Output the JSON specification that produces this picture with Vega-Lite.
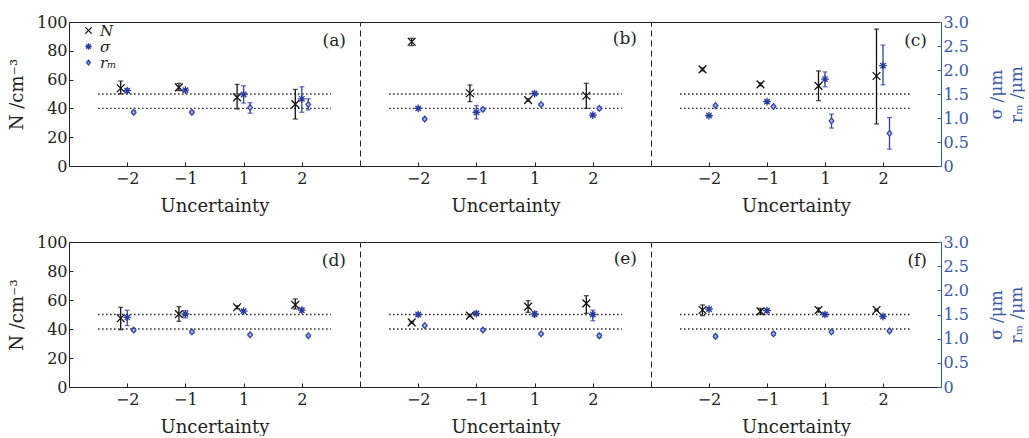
{
"$schema":"https://vega.github.io/schema/vega-lite/v6.json",
"padding":{"left":8,"top":14,"right":0,"bottom":0},
"config":{"font":"DejaVu Serif","view":{"stroke":null},
"axis":{"grid":false,"labelFont":"DejaVu Serif","titleFont":"DejaVu Serif","labelFontSize":16,"titleFontSize":18,"titleFontWeight":"normal","labelColor":"#222222","titleColor":"#222222","domainColor":"#222222","tickColor":"#222222","tickSize":-4,"domainWidth":1,"tickWidth":1},
"axisX":{"labelAngle":0},
"point":{"size":60,"strokeWidth":1.3,"filled":true,"opacity":1},
"tick":{"size":5,"thickness":1.3},
"rule":{"strokeWidth":1.3},
"title":{"anchor":"end","frame":"group","offset":0,"dx":-14,"dy":40,"fontSize":17,"fontWeight":"normal","font":"DejaVu Serif","color":"#222222","baseline":"alphabetic"}},
"datasets":{
"ref":[{"y":50,"a":0.5,"b":4.5},{"y":40,"a":0.5,"b":4.5}],
"pts":[
{"p":"a","u":"-2","s":"N","v":54,"lo":50,"hi":59},
{"p":"a","u":"-1","s":"N","v":54.6,"lo":52.3,"hi":57.4},
{"p":"a","u":"1","s":"N","v":47.7,"lo":39.6,"hi":56.7},
{"p":"a","u":"2","s":"N","v":43,"lo":32.6,"hi":53.2},
{"p":"a","u":"-2","s":"σ","v":1.57,"lo":1.53,"hi":1.61},
{"p":"a","u":"-1","s":"σ","v":1.58,"lo":1.55,"hi":1.61},
{"p":"a","u":"1","s":"σ","v":1.49,"lo":1.31,"hi":1.67},
{"p":"a","u":"2","s":"σ","v":1.40,"lo":1.12,"hi":1.65},
{"p":"a","u":"-2","s":"rm","v":1.12,"lo":1.09,"hi":1.15},
{"p":"a","u":"-1","s":"rm","v":1.12,"lo":1.09,"hi":1.15},
{"p":"a","u":"1","s":"rm","v":1.22,"lo":1.10,"hi":1.32},
{"p":"a","u":"2","s":"rm","v":1.28,"lo":1.17,"hi":1.40},
{"p":"b","u":"-2","s":"N","v":86.3,"lo":83.6,"hi":88.7},
{"p":"b","u":"-1","s":"N","v":50.5,"lo":44.7,"hi":56.3},
{"p":"b","u":"1","s":"N","v":45.8,"lo":45,"hi":46.6},
{"p":"b","u":"2","s":"N","v":48.8,"lo":40,"hi":57.4},
{"p":"b","u":"-2","s":"σ","v":1.20,"lo":1.17,"hi":1.23},
{"p":"b","u":"-1","s":"σ","v":1.12,"lo":0.98,"hi":1.26},
{"p":"b","u":"1","s":"σ","v":1.51,"lo":1.48,"hi":1.54},
{"p":"b","u":"2","s":"σ","v":1.06,"lo":1.03,"hi":1.09},
{"p":"b","u":"-2","s":"rm","v":0.98,"lo":0.96,"hi":1.00},
{"p":"b","u":"-1","s":"rm","v":1.18,"lo":1.15,"hi":1.21},
{"p":"b","u":"1","s":"rm","v":1.28,"lo":1.26,"hi":1.30},
{"p":"b","u":"2","s":"rm","v":1.20,"lo":1.17,"hi":1.23},
{"p":"c","u":"-2","s":"N","v":67.1,"lo":66.1,"hi":68.1},
{"p":"c","u":"-1","s":"N","v":56.7,"lo":55.7,"hi":57.7},
{"p":"c","u":"1","s":"N","v":55.6,"lo":45.4,"hi":66},
{"p":"c","u":"2","s":"N","v":62.5,"lo":29.2,"hi":95.1},
{"p":"c","u":"-2","s":"σ","v":1.05,"lo":1.03,"hi":1.07},
{"p":"c","u":"-1","s":"σ","v":1.34,"lo":1.31,"hi":1.37},
{"p":"c","u":"1","s":"σ","v":1.81,"lo":1.65,"hi":1.96},
{"p":"c","u":"2","s":"σ","v":2.09,"lo":1.69,"hi":2.52},
{"p":"c","u":"-2","s":"rm","v":1.26,"lo":1.24,"hi":1.28},
{"p":"c","u":"-1","s":"rm","v":1.24,"lo":1.22,"hi":1.26},
{"p":"c","u":"1","s":"rm","v":0.94,"lo":0.79,"hi":1.08},
{"p":"c","u":"2","s":"rm","v":0.68,"lo":0.35,"hi":1.01},
{"p":"d","u":"-2","s":"N","v":47.4,"lo":39.5,"hi":55},
{"p":"d","u":"-1","s":"N","v":50.3,"lo":45.3,"hi":55.4},
{"p":"d","u":"1","s":"N","v":55,"lo":54,"hi":56},
{"p":"d","u":"2","s":"N","v":56.6,"lo":53.8,"hi":60.7},
{"p":"d","u":"-2","s":"σ","v":1.44,"lo":1.27,"hi":1.59},
{"p":"d","u":"-1","s":"σ","v":1.51,"lo":1.43,"hi":1.58},
{"p":"d","u":"1","s":"σ","v":1.57,"lo":1.54,"hi":1.60},
{"p":"d","u":"2","s":"σ","v":1.59,"lo":1.55,"hi":1.63},
{"p":"d","u":"-2","s":"rm","v":1.18,"lo":1.15,"hi":1.21},
{"p":"d","u":"-1","s":"rm","v":1.14,"lo":1.11,"hi":1.17},
{"p":"d","u":"1","s":"rm","v":1.08,"lo":1.06,"hi":1.10},
{"p":"d","u":"2","s":"rm","v":1.06,"lo":1.04,"hi":1.08},
{"p":"e","u":"-2","s":"N","v":44.6,"lo":44,"hi":45.2},
{"p":"e","u":"-1","s":"N","v":49.2,"lo":48.6,"hi":49.8},
{"p":"e","u":"1","s":"N","v":55.4,"lo":51.5,"hi":59.5},
{"p":"e","u":"2","s":"N","v":57.7,"lo":50.8,"hi":63},
{"p":"e","u":"-2","s":"σ","v":1.50,"lo":1.47,"hi":1.53},
{"p":"e","u":"-1","s":"σ","v":1.52,"lo":1.49,"hi":1.55},
{"p":"e","u":"1","s":"σ","v":1.51,"lo":1.46,"hi":1.56},
{"p":"e","u":"2","s":"σ","v":1.50,"lo":1.37,"hi":1.59},
{"p":"e","u":"-2","s":"rm","v":1.27,"lo":1.25,"hi":1.29},
{"p":"e","u":"-1","s":"rm","v":1.18,"lo":1.16,"hi":1.20},
{"p":"e","u":"1","s":"rm","v":1.10,"lo":1.08,"hi":1.12},
{"p":"e","u":"2","s":"rm","v":1.06,"lo":1.02,"hi":1.10},
{"p":"f","u":"-2","s":"N","v":53.1,"lo":49.2,"hi":56.6},
{"p":"f","u":"-1","s":"N","v":52.2,"lo":50.2,"hi":54.2},
{"p":"f","u":"1","s":"N","v":53.1,"lo":51.6,"hi":54.6},
{"p":"f","u":"2","s":"N","v":53.1,"lo":52.5,"hi":53.7},
{"p":"f","u":"-2","s":"σ","v":1.61,"lo":1.58,"hi":1.64},
{"p":"f","u":"-1","s":"σ","v":1.58,"lo":1.55,"hi":1.61},
{"p":"f","u":"1","s":"σ","v":1.50,"lo":1.47,"hi":1.53},
{"p":"f","u":"2","s":"σ","v":1.46,"lo":1.43,"hi":1.49},
{"p":"f","u":"-2","s":"rm","v":1.05,"lo":1.02,"hi":1.08},
{"p":"f","u":"-1","s":"rm","v":1.10,"lo":1.07,"hi":1.13},
{"p":"f","u":"1","s":"rm","v":1.14,"lo":1.12,"hi":1.16},
{"p":"f","u":"2","s":"rm","v":1.16,"lo":1.14,"hi":1.18}
]},
"resolve":{"scale":{"shape":"independent","stroke":"independent","fill":"independent"},"legend":{"shape":"independent","stroke":"independent","fill":"independent"}},
"spacing":19,
"vconcat":[
{"hconcat":[
{"width":291,"height":144,"title":{"text":"(a)"},
"layer":[
{"data":{"name":"ref"},"mark":{"type":"rule","strokeDash":[1.5,2.5],"color":"#222222"},"encoding":{"x":{"field":"a","type":"quantitative","scale":{"domain":[0,5]},"axis":{"orient":"top","labels":false,"ticks":false,"title":null}},"x2":{"field":"b"},"y":{"field":"y","type":"quantitative","scale":{"domain":[0,100]},"axis":null}}},
{"data":{"name":"pts"},"transform":[{"filter":"datum.p=='a' && datum.s=='N'"}],"mark":{"type":"rule","color":"#111111"},"encoding":{"x":{"field":"u","type":"nominal","scale":{"type":"point","domain":["-2","-1","1","2"],"padding":1},"axis":{"title":"Uncertainty","labelExpr":"replace(datum.label,'-','−')","labelPadding":8,"titlePadding":11}},"xOffset":{"field":"s","type":"nominal","scale":{"type":"point","domain":["N","σ","rm"],"range":[-6.5,6.5],"padding":0}},"y":{"field":"lo","type":"quantitative","scale":{"domain":[0,100]},"axis":{"orient":"left","values":[0,20,40,60,80,100],"title":"N /cm⁻³","titlePadding":10,"labelPadding":6}},"y2":{"field":"hi"}}},
{"data":{"name":"pts"},"transform":[{"filter":"datum.p=='a' && datum.s=='N'"},{"fold":["lo","hi"],"as":["k","e"]}],"mark":{"type":"tick","color":"#111111"},"encoding":{"x":{"field":"u","type":"nominal","scale":{"type":"point","domain":["-2","-1","1","2"],"padding":1},"axis":null},"xOffset":{"field":"s","type":"nominal","scale":{"type":"point","domain":["N","σ","rm"],"range":[-6.5,6.5],"padding":0}},"y":{"field":"e","type":"quantitative","scale":{"domain":[0,100]},"axis":null}}},
{"data":{"name":"pts"},"transform":[{"filter":"datum.p=='a' && datum.s=='N'"}],"mark":"point","encoding":{"x":{"field":"u","type":"nominal","scale":{"type":"point","domain":["-2","-1","1","2"],"padding":1},"axis":null},"xOffset":{"field":"s","type":"nominal","scale":{"type":"point","domain":["N","σ","rm"],"range":[-6.5,6.5],"padding":0}},"y":{"field":"v","type":"quantitative","scale":{"domain":[0,100]},"axis":null},
"shape":{"field":"s","type":"nominal","scale":{"domain":["N","σ","rm"],"range":["M-1,-1L1,1M-1,1L1,-1","M-1,0L1,0M0,-1L0,1M-0.7,-0.7L0.7,0.7M-0.7,0.7L0.7,-0.7","M0,-0.75L0.6,0L0,0.75L-0.6,0Z"]},"legend":{"orient":"top-left","title":null,"offset":1,"padding":0,"rowPadding":-6,"labelFontSize":15,"labelFontStyle":"italic","labelColor":"#222222","symbolSize":40,"symbolStrokeWidth":1.3,"symbolOffset":11,"labelOffset":4,"labelExpr":"datum.label=='rm' ? 'rₘ' : datum.label"}},
"stroke":{"field":"s","type":"nominal","scale":{"domain":["N","σ","rm"],"range":["#111111","#2b3a9e","#3848a8"]},"legend":{"orient":"top-left","title":null,"offset":1,"padding":0,"rowPadding":-6,"labelFontSize":15,"labelFontStyle":"italic","labelColor":"#222222","symbolSize":40,"symbolStrokeWidth":1.3,"symbolOffset":11,"labelOffset":4,"labelExpr":"datum.label=='rm' ? 'rₘ' : datum.label"}},
"fill":{"field":"s","type":"nominal","scale":{"domain":["N","σ","rm"],"range":["transparent","transparent","#b0b8e8"]},"legend":{"orient":"top-left","title":null,"offset":1,"padding":0,"rowPadding":-6,"labelFontSize":15,"labelFontStyle":"italic","labelColor":"#222222","symbolSize":40,"symbolStrokeWidth":1.3,"symbolOffset":11,"labelOffset":4,"labelExpr":"datum.label=='rm' ? 'rₘ' : datum.label"}}}},
{"data":{"name":"pts"},"transform":[{"filter":"datum.p=='a' && datum.s!='N'"}],"mark":{"type":"rule","color":"#3040a4"},"encoding":{"x":{"field":"u","type":"nominal","scale":{"type":"point","domain":["-2","-1","1","2"],"padding":1},"axis":null},"xOffset":{"field":"s","type":"nominal","scale":{"type":"point","domain":["N","σ","rm"],"range":[-6.5,6.5],"padding":0}},"y":{"field":"lo","type":"quantitative","scale":{"domain":[0,3]},"axis":null},"y2":{"field":"hi"}}},
{"data":{"name":"pts"},"transform":[{"filter":"datum.p=='a' && datum.s!='N'"},{"fold":["lo","hi"],"as":["k","e"]}],"mark":{"type":"tick","color":"#3040a4"},"encoding":{"x":{"field":"u","type":"nominal","scale":{"type":"point","domain":["-2","-1","1","2"],"padding":1},"axis":null},"xOffset":{"field":"s","type":"nominal","scale":{"type":"point","domain":["N","σ","rm"],"range":[-6.5,6.5],"padding":0}},"y":{"field":"e","type":"quantitative","scale":{"domain":[0,3]},"axis":null}}},
{"data":{"name":"pts"},"transform":[{"filter":"datum.p=='a' && datum.s!='N'"}],"mark":"point","encoding":{"x":{"field":"u","type":"nominal","scale":{"type":"point","domain":["-2","-1","1","2"],"padding":1},"axis":null},"xOffset":{"field":"s","type":"nominal","scale":{"type":"point","domain":["N","σ","rm"],"range":[-6.5,6.5],"padding":0}},"y":{"field":"v","type":"quantitative","scale":{"domain":[0,3]},"axis":null},
"shape":{"field":"s","type":"nominal","scale":{"domain":["N","σ","rm"],"range":["M-1,-1L1,1M-1,1L1,-1","M-1,0L1,0M0,-1L0,1M-0.7,-0.7L0.7,0.7M-0.7,0.7L0.7,-0.7","M0,-0.75L0.6,0L0,0.75L-0.6,0Z"]},"legend":{"orient":"top-left","title":null,"offset":1,"padding":0,"rowPadding":-6,"labelFontSize":15,"labelFontStyle":"italic","labelColor":"#222222","symbolSize":40,"symbolStrokeWidth":1.3,"symbolOffset":11,"labelOffset":4,"labelExpr":"datum.label=='rm' ? 'rₘ' : datum.label"}},
"stroke":{"field":"s","type":"nominal","scale":{"domain":["N","σ","rm"],"range":["#111111","#2b3a9e","#3848a8"]},"legend":{"orient":"top-left","title":null,"offset":1,"padding":0,"rowPadding":-6,"labelFontSize":15,"labelFontStyle":"italic","labelColor":"#222222","symbolSize":40,"symbolStrokeWidth":1.3,"symbolOffset":11,"labelOffset":4,"labelExpr":"datum.label=='rm' ? 'rₘ' : datum.label"}},
"fill":{"field":"s","type":"nominal","scale":{"domain":["N","σ","rm"],"range":["transparent","transparent","#b0b8e8"]},"legend":{"orient":"top-left","title":null,"offset":1,"padding":0,"rowPadding":-6,"labelFontSize":15,"labelFontStyle":"italic","labelColor":"#222222","symbolSize":40,"symbolStrokeWidth":1.3,"symbolOffset":11,"labelOffset":4,"labelExpr":"datum.label=='rm' ? 'rₘ' : datum.label"}}}}
],
"resolve":{"scale":{"x":"independent","y":"independent"}}},
{"width":291,"height":144,"title":{"text":"(b)","dy":30},
"layer":[
{"data":{"name":"ref"},"mark":{"type":"rule","strokeDash":[1.5,2.5],"color":"#222222"},"encoding":{"x":{"field":"a","type":"quantitative","scale":{"domain":[0,5]},"axis":{"orient":"top","labels":false,"ticks":false,"title":null}},"x2":{"field":"b"},"y":{"field":"y","type":"quantitative","scale":{"domain":[0,100]},"axis":null}}},
{"data":{"name":"pts"},"transform":[{"filter":"datum.p=='b' && datum.s=='N'"}],"mark":{"type":"rule","color":"#111111"},"encoding":{"x":{"field":"u","type":"nominal","scale":{"type":"point","domain":["-2","-1","1","2"],"padding":1},"axis":{"title":"Uncertainty","labelExpr":"replace(datum.label,'-','−')","labelPadding":8,"titlePadding":11}},"xOffset":{"field":"s","type":"nominal","scale":{"type":"point","domain":["N","σ","rm"],"range":[-6.5,6.5],"padding":0}},"y":{"field":"lo","type":"quantitative","scale":{"domain":[0,100]},"axis":{"orient":"left","labels":false,"ticks":false,"title":null,"domainDash":[6,4]}},"y2":{"field":"hi"}}},
{"data":{"name":"pts"},"transform":[{"filter":"datum.p=='b' && datum.s=='N'"},{"fold":["lo","hi"],"as":["k","e"]}],"mark":{"type":"tick","color":"#111111"},"encoding":{"x":{"field":"u","type":"nominal","scale":{"type":"point","domain":["-2","-1","1","2"],"padding":1},"axis":null},"xOffset":{"field":"s","type":"nominal","scale":{"type":"point","domain":["N","σ","rm"],"range":[-6.5,6.5],"padding":0}},"y":{"field":"e","type":"quantitative","scale":{"domain":[0,100]},"axis":null}}},
{"data":{"name":"pts"},"transform":[{"filter":"datum.p=='b' && datum.s=='N'"}],"mark":"point","encoding":{"x":{"field":"u","type":"nominal","scale":{"type":"point","domain":["-2","-1","1","2"],"padding":1},"axis":null},"xOffset":{"field":"s","type":"nominal","scale":{"type":"point","domain":["N","σ","rm"],"range":[-6.5,6.5],"padding":0}},"y":{"field":"v","type":"quantitative","scale":{"domain":[0,100]},"axis":null},
"shape":{"field":"s","type":"nominal","scale":{"domain":["N","σ","rm"],"range":["M-1,-1L1,1M-1,1L1,-1","M-1,0L1,0M0,-1L0,1M-0.7,-0.7L0.7,0.7M-0.7,0.7L0.7,-0.7","M0,-0.75L0.6,0L0,0.75L-0.6,0Z"]},"legend":null},
"stroke":{"field":"s","type":"nominal","scale":{"domain":["N","σ","rm"],"range":["#111111","#2b3a9e","#3848a8"]},"legend":null},
"fill":{"field":"s","type":"nominal","scale":{"domain":["N","σ","rm"],"range":["transparent","transparent","#b0b8e8"]},"legend":null}}},
{"data":{"name":"pts"},"transform":[{"filter":"datum.p=='b' && datum.s!='N'"}],"mark":{"type":"rule","color":"#3040a4"},"encoding":{"x":{"field":"u","type":"nominal","scale":{"type":"point","domain":["-2","-1","1","2"],"padding":1},"axis":null},"xOffset":{"field":"s","type":"nominal","scale":{"type":"point","domain":["N","σ","rm"],"range":[-6.5,6.5],"padding":0}},"y":{"field":"lo","type":"quantitative","scale":{"domain":[0,3]},"axis":null},"y2":{"field":"hi"}}},
{"data":{"name":"pts"},"transform":[{"filter":"datum.p=='b' && datum.s!='N'"},{"fold":["lo","hi"],"as":["k","e"]}],"mark":{"type":"tick","color":"#3040a4"},"encoding":{"x":{"field":"u","type":"nominal","scale":{"type":"point","domain":["-2","-1","1","2"],"padding":1},"axis":null},"xOffset":{"field":"s","type":"nominal","scale":{"type":"point","domain":["N","σ","rm"],"range":[-6.5,6.5],"padding":0}},"y":{"field":"e","type":"quantitative","scale":{"domain":[0,3]},"axis":null}}},
{"data":{"name":"pts"},"transform":[{"filter":"datum.p=='b' && datum.s!='N'"}],"mark":"point","encoding":{"x":{"field":"u","type":"nominal","scale":{"type":"point","domain":["-2","-1","1","2"],"padding":1},"axis":null},"xOffset":{"field":"s","type":"nominal","scale":{"type":"point","domain":["N","σ","rm"],"range":[-6.5,6.5],"padding":0}},"y":{"field":"v","type":"quantitative","scale":{"domain":[0,3]},"axis":null},
"shape":{"field":"s","type":"nominal","scale":{"domain":["N","σ","rm"],"range":["M-1,-1L1,1M-1,1L1,-1","M-1,0L1,0M0,-1L0,1M-0.7,-0.7L0.7,0.7M-0.7,0.7L0.7,-0.7","M0,-0.75L0.6,0L0,0.75L-0.6,0Z"]},"legend":null},
"stroke":{"field":"s","type":"nominal","scale":{"domain":["N","σ","rm"],"range":["#111111","#2b3a9e","#3848a8"]},"legend":null},
"fill":{"field":"s","type":"nominal","scale":{"domain":["N","σ","rm"],"range":["transparent","transparent","#b0b8e8"]},"legend":null}}}
],
"resolve":{"scale":{"x":"independent","y":"independent"}}},
{"width":290,"height":144,"title":{"text":"(c)"},
"layer":[
{"data":{"name":"ref"},"mark":{"type":"rule","strokeDash":[1.5,2.5],"color":"#222222"},"encoding":{"x":{"field":"a","type":"quantitative","scale":{"domain":[0,5]},"axis":{"orient":"top","labels":false,"ticks":false,"title":null}},"x2":{"field":"b"},"y":{"field":"y","type":"quantitative","scale":{"domain":[0,100]},"axis":null}}},
{"data":{"name":"pts"},"transform":[{"filter":"datum.p=='c' && datum.s=='N'"}],"mark":{"type":"rule","color":"#111111"},"encoding":{"x":{"field":"u","type":"nominal","scale":{"type":"point","domain":["-2","-1","1","2"],"padding":1},"axis":{"title":"Uncertainty","labelExpr":"replace(datum.label,'-','−')","labelPadding":8,"titlePadding":11}},"xOffset":{"field":"s","type":"nominal","scale":{"type":"point","domain":["N","σ","rm"],"range":[-6.5,6.5],"padding":0}},"y":{"field":"lo","type":"quantitative","scale":{"domain":[0,100]},"axis":{"orient":"left","labels":false,"ticks":false,"title":null,"domainDash":[6,4]}},"y2":{"field":"hi"}}},
{"data":{"name":"pts"},"transform":[{"filter":"datum.p=='c' && datum.s=='N'"},{"fold":["lo","hi"],"as":["k","e"]}],"mark":{"type":"tick","color":"#111111"},"encoding":{"x":{"field":"u","type":"nominal","scale":{"type":"point","domain":["-2","-1","1","2"],"padding":1},"axis":null},"xOffset":{"field":"s","type":"nominal","scale":{"type":"point","domain":["N","σ","rm"],"range":[-6.5,6.5],"padding":0}},"y":{"field":"e","type":"quantitative","scale":{"domain":[0,100]},"axis":null}}},
{"data":{"name":"pts"},"transform":[{"filter":"datum.p=='c' && datum.s=='N'"}],"mark":"point","encoding":{"x":{"field":"u","type":"nominal","scale":{"type":"point","domain":["-2","-1","1","2"],"padding":1},"axis":null},"xOffset":{"field":"s","type":"nominal","scale":{"type":"point","domain":["N","σ","rm"],"range":[-6.5,6.5],"padding":0}},"y":{"field":"v","type":"quantitative","scale":{"domain":[0,100]},"axis":null},
"shape":{"field":"s","type":"nominal","scale":{"domain":["N","σ","rm"],"range":["M-1,-1L1,1M-1,1L1,-1","M-1,0L1,0M0,-1L0,1M-0.7,-0.7L0.7,0.7M-0.7,0.7L0.7,-0.7","M0,-0.75L0.6,0L0,0.75L-0.6,0Z"]},"legend":null},
"stroke":{"field":"s","type":"nominal","scale":{"domain":["N","σ","rm"],"range":["#111111","#2b3a9e","#3848a8"]},"legend":null},
"fill":{"field":"s","type":"nominal","scale":{"domain":["N","σ","rm"],"range":["transparent","transparent","#b0b8e8"]},"legend":null}}},
{"data":{"name":"pts"},"transform":[{"filter":"datum.p=='c' && datum.s!='N'"}],"mark":{"type":"rule","color":"#3040a4"},"encoding":{"x":{"field":"u","type":"nominal","scale":{"type":"point","domain":["-2","-1","1","2"],"padding":1},"axis":null},"xOffset":{"field":"s","type":"nominal","scale":{"type":"point","domain":["N","σ","rm"],"range":[-6.5,6.5],"padding":0}},"y":{"field":"lo","type":"quantitative","scale":{"domain":[0,3]},"axis":{"orient":"right","values":[0,0.5,1,1.5,2,2.5,3],"labelExpr":"datum.value==0 ? '0' : format(datum.value,'.1f')","title":["σ /μm","rₘ /μm"],"domainColor":"#3a58a8","tickColor":"#3a58a8","labelColor":"#3a58a8","titleColor":"#3a58a8","titleAngle":-90,"titleBaseline":"top","titleFontSize":17,"titlePadding":0,"titleLineHeight":20,"labelPadding":6}},"y2":{"field":"hi"}}},
{"data":{"name":"pts"},"transform":[{"filter":"datum.p=='c' && datum.s!='N'"},{"fold":["lo","hi"],"as":["k","e"]}],"mark":{"type":"tick","color":"#3040a4"},"encoding":{"x":{"field":"u","type":"nominal","scale":{"type":"point","domain":["-2","-1","1","2"],"padding":1},"axis":null},"xOffset":{"field":"s","type":"nominal","scale":{"type":"point","domain":["N","σ","rm"],"range":[-6.5,6.5],"padding":0}},"y":{"field":"e","type":"quantitative","scale":{"domain":[0,3]},"axis":null}}},
{"data":{"name":"pts"},"transform":[{"filter":"datum.p=='c' && datum.s!='N'"}],"mark":"point","encoding":{"x":{"field":"u","type":"nominal","scale":{"type":"point","domain":["-2","-1","1","2"],"padding":1},"axis":null},"xOffset":{"field":"s","type":"nominal","scale":{"type":"point","domain":["N","σ","rm"],"range":[-6.5,6.5],"padding":0}},"y":{"field":"v","type":"quantitative","scale":{"domain":[0,3]},"axis":null},
"shape":{"field":"s","type":"nominal","scale":{"domain":["N","σ","rm"],"range":["M-1,-1L1,1M-1,1L1,-1","M-1,0L1,0M0,-1L0,1M-0.7,-0.7L0.7,0.7M-0.7,0.7L0.7,-0.7","M0,-0.75L0.6,0L0,0.75L-0.6,0Z"]},"legend":null},
"stroke":{"field":"s","type":"nominal","scale":{"domain":["N","σ","rm"],"range":["#111111","#2b3a9e","#3848a8"]},"legend":null},
"fill":{"field":"s","type":"nominal","scale":{"domain":["N","σ","rm"],"range":["transparent","transparent","#b0b8e8"]},"legend":null}}}
],
"resolve":{"scale":{"x":"independent","y":"independent"}}}
],"spacing":0,
"resolve":{"scale":{"shape":"independent","stroke":"independent","fill":"independent"},"legend":{"shape":"independent","stroke":"independent","fill":"independent"}}},
{"hconcat":[
{"width":291,"height":145,"title":{"text":"(d)"},
"layer":[
{"data":{"name":"ref"},"mark":{"type":"rule","strokeDash":[1.5,2.5],"color":"#222222"},"encoding":{"x":{"field":"a","type":"quantitative","scale":{"domain":[0,5]},"axis":{"orient":"top","labels":false,"ticks":false,"title":null}},"x2":{"field":"b"},"y":{"field":"y","type":"quantitative","scale":{"domain":[0,100]},"axis":null}}},
{"data":{"name":"pts"},"transform":[{"filter":"datum.p=='d' && datum.s=='N'"}],"mark":{"type":"rule","color":"#111111"},"encoding":{"x":{"field":"u","type":"nominal","scale":{"type":"point","domain":["-2","-1","1","2"],"padding":1},"axis":{"title":"Uncertainty","labelExpr":"replace(datum.label,'-','−')","labelPadding":8,"titlePadding":11}},"xOffset":{"field":"s","type":"nominal","scale":{"type":"point","domain":["N","σ","rm"],"range":[-6.5,6.5],"padding":0}},"y":{"field":"lo","type":"quantitative","scale":{"domain":[0,100]},"axis":{"orient":"left","values":[0,20,40,60,80,100],"title":"N /cm⁻³","titlePadding":10,"labelPadding":6}},"y2":{"field":"hi"}}},
{"data":{"name":"pts"},"transform":[{"filter":"datum.p=='d' && datum.s=='N'"},{"fold":["lo","hi"],"as":["k","e"]}],"mark":{"type":"tick","color":"#111111"},"encoding":{"x":{"field":"u","type":"nominal","scale":{"type":"point","domain":["-2","-1","1","2"],"padding":1},"axis":null},"xOffset":{"field":"s","type":"nominal","scale":{"type":"point","domain":["N","σ","rm"],"range":[-6.5,6.5],"padding":0}},"y":{"field":"e","type":"quantitative","scale":{"domain":[0,100]},"axis":null}}},
{"data":{"name":"pts"},"transform":[{"filter":"datum.p=='d' && datum.s=='N'"}],"mark":"point","encoding":{"x":{"field":"u","type":"nominal","scale":{"type":"point","domain":["-2","-1","1","2"],"padding":1},"axis":null},"xOffset":{"field":"s","type":"nominal","scale":{"type":"point","domain":["N","σ","rm"],"range":[-6.5,6.5],"padding":0}},"y":{"field":"v","type":"quantitative","scale":{"domain":[0,100]},"axis":null},
"shape":{"field":"s","type":"nominal","scale":{"domain":["N","σ","rm"],"range":["M-1,-1L1,1M-1,1L1,-1","M-1,0L1,0M0,-1L0,1M-0.7,-0.7L0.7,0.7M-0.7,0.7L0.7,-0.7","M0,-0.75L0.6,0L0,0.75L-0.6,0Z"]},"legend":null},
"stroke":{"field":"s","type":"nominal","scale":{"domain":["N","σ","rm"],"range":["#111111","#2b3a9e","#3848a8"]},"legend":null},
"fill":{"field":"s","type":"nominal","scale":{"domain":["N","σ","rm"],"range":["transparent","transparent","#b0b8e8"]},"legend":null}}},
{"data":{"name":"pts"},"transform":[{"filter":"datum.p=='d' && datum.s!='N'"}],"mark":{"type":"rule","color":"#3040a4"},"encoding":{"x":{"field":"u","type":"nominal","scale":{"type":"point","domain":["-2","-1","1","2"],"padding":1},"axis":null},"xOffset":{"field":"s","type":"nominal","scale":{"type":"point","domain":["N","σ","rm"],"range":[-6.5,6.5],"padding":0}},"y":{"field":"lo","type":"quantitative","scale":{"domain":[0,3]},"axis":null},"y2":{"field":"hi"}}},
{"data":{"name":"pts"},"transform":[{"filter":"datum.p=='d' && datum.s!='N'"},{"fold":["lo","hi"],"as":["k","e"]}],"mark":{"type":"tick","color":"#3040a4"},"encoding":{"x":{"field":"u","type":"nominal","scale":{"type":"point","domain":["-2","-1","1","2"],"padding":1},"axis":null},"xOffset":{"field":"s","type":"nominal","scale":{"type":"point","domain":["N","σ","rm"],"range":[-6.5,6.5],"padding":0}},"y":{"field":"e","type":"quantitative","scale":{"domain":[0,3]},"axis":null}}},
{"data":{"name":"pts"},"transform":[{"filter":"datum.p=='d' && datum.s!='N'"}],"mark":"point","encoding":{"x":{"field":"u","type":"nominal","scale":{"type":"point","domain":["-2","-1","1","2"],"padding":1},"axis":null},"xOffset":{"field":"s","type":"nominal","scale":{"type":"point","domain":["N","σ","rm"],"range":[-6.5,6.5],"padding":0}},"y":{"field":"v","type":"quantitative","scale":{"domain":[0,3]},"axis":null},
"shape":{"field":"s","type":"nominal","scale":{"domain":["N","σ","rm"],"range":["M-1,-1L1,1M-1,1L1,-1","M-1,0L1,0M0,-1L0,1M-0.7,-0.7L0.7,0.7M-0.7,0.7L0.7,-0.7","M0,-0.75L0.6,0L0,0.75L-0.6,0Z"]},"legend":null},
"stroke":{"field":"s","type":"nominal","scale":{"domain":["N","σ","rm"],"range":["#111111","#2b3a9e","#3848a8"]},"legend":null},
"fill":{"field":"s","type":"nominal","scale":{"domain":["N","σ","rm"],"range":["transparent","transparent","#b0b8e8"]},"legend":null}}}
],
"resolve":{"scale":{"x":"independent","y":"independent"}}},
{"width":291,"height":145,"title":{"text":"(e)","dy":30},
"layer":[
{"data":{"name":"ref"},"mark":{"type":"rule","strokeDash":[1.5,2.5],"color":"#222222"},"encoding":{"x":{"field":"a","type":"quantitative","scale":{"domain":[0,5]},"axis":{"orient":"top","labels":false,"ticks":false,"title":null}},"x2":{"field":"b"},"y":{"field":"y","type":"quantitative","scale":{"domain":[0,100]},"axis":null}}},
{"data":{"name":"pts"},"transform":[{"filter":"datum.p=='e' && datum.s=='N'"}],"mark":{"type":"rule","color":"#111111"},"encoding":{"x":{"field":"u","type":"nominal","scale":{"type":"point","domain":["-2","-1","1","2"],"padding":1},"axis":{"title":"Uncertainty","labelExpr":"replace(datum.label,'-','−')","labelPadding":8,"titlePadding":11}},"xOffset":{"field":"s","type":"nominal","scale":{"type":"point","domain":["N","σ","rm"],"range":[-6.5,6.5],"padding":0}},"y":{"field":"lo","type":"quantitative","scale":{"domain":[0,100]},"axis":{"orient":"left","labels":false,"ticks":false,"title":null,"domainDash":[6,4]}},"y2":{"field":"hi"}}},
{"data":{"name":"pts"},"transform":[{"filter":"datum.p=='e' && datum.s=='N'"},{"fold":["lo","hi"],"as":["k","e"]}],"mark":{"type":"tick","color":"#111111"},"encoding":{"x":{"field":"u","type":"nominal","scale":{"type":"point","domain":["-2","-1","1","2"],"padding":1},"axis":null},"xOffset":{"field":"s","type":"nominal","scale":{"type":"point","domain":["N","σ","rm"],"range":[-6.5,6.5],"padding":0}},"y":{"field":"e","type":"quantitative","scale":{"domain":[0,100]},"axis":null}}},
{"data":{"name":"pts"},"transform":[{"filter":"datum.p=='e' && datum.s=='N'"}],"mark":"point","encoding":{"x":{"field":"u","type":"nominal","scale":{"type":"point","domain":["-2","-1","1","2"],"padding":1},"axis":null},"xOffset":{"field":"s","type":"nominal","scale":{"type":"point","domain":["N","σ","rm"],"range":[-6.5,6.5],"padding":0}},"y":{"field":"v","type":"quantitative","scale":{"domain":[0,100]},"axis":null},
"shape":{"field":"s","type":"nominal","scale":{"domain":["N","σ","rm"],"range":["M-1,-1L1,1M-1,1L1,-1","M-1,0L1,0M0,-1L0,1M-0.7,-0.7L0.7,0.7M-0.7,0.7L0.7,-0.7","M0,-0.75L0.6,0L0,0.75L-0.6,0Z"]},"legend":null},
"stroke":{"field":"s","type":"nominal","scale":{"domain":["N","σ","rm"],"range":["#111111","#2b3a9e","#3848a8"]},"legend":null},
"fill":{"field":"s","type":"nominal","scale":{"domain":["N","σ","rm"],"range":["transparent","transparent","#b0b8e8"]},"legend":null}}},
{"data":{"name":"pts"},"transform":[{"filter":"datum.p=='e' && datum.s!='N'"}],"mark":{"type":"rule","color":"#3040a4"},"encoding":{"x":{"field":"u","type":"nominal","scale":{"type":"point","domain":["-2","-1","1","2"],"padding":1},"axis":null},"xOffset":{"field":"s","type":"nominal","scale":{"type":"point","domain":["N","σ","rm"],"range":[-6.5,6.5],"padding":0}},"y":{"field":"lo","type":"quantitative","scale":{"domain":[0,3]},"axis":null},"y2":{"field":"hi"}}},
{"data":{"name":"pts"},"transform":[{"filter":"datum.p=='e' && datum.s!='N'"},{"fold":["lo","hi"],"as":["k","e"]}],"mark":{"type":"tick","color":"#3040a4"},"encoding":{"x":{"field":"u","type":"nominal","scale":{"type":"point","domain":["-2","-1","1","2"],"padding":1},"axis":null},"xOffset":{"field":"s","type":"nominal","scale":{"type":"point","domain":["N","σ","rm"],"range":[-6.5,6.5],"padding":0}},"y":{"field":"e","type":"quantitative","scale":{"domain":[0,3]},"axis":null}}},
{"data":{"name":"pts"},"transform":[{"filter":"datum.p=='e' && datum.s!='N'"}],"mark":"point","encoding":{"x":{"field":"u","type":"nominal","scale":{"type":"point","domain":["-2","-1","1","2"],"padding":1},"axis":null},"xOffset":{"field":"s","type":"nominal","scale":{"type":"point","domain":["N","σ","rm"],"range":[-6.5,6.5],"padding":0}},"y":{"field":"v","type":"quantitative","scale":{"domain":[0,3]},"axis":null},
"shape":{"field":"s","type":"nominal","scale":{"domain":["N","σ","rm"],"range":["M-1,-1L1,1M-1,1L1,-1","M-1,0L1,0M0,-1L0,1M-0.7,-0.7L0.7,0.7M-0.7,0.7L0.7,-0.7","M0,-0.75L0.6,0L0,0.75L-0.6,0Z"]},"legend":null},
"stroke":{"field":"s","type":"nominal","scale":{"domain":["N","σ","rm"],"range":["#111111","#2b3a9e","#3848a8"]},"legend":null},
"fill":{"field":"s","type":"nominal","scale":{"domain":["N","σ","rm"],"range":["transparent","transparent","#b0b8e8"]},"legend":null}}}
],
"resolve":{"scale":{"x":"independent","y":"independent"}}},
{"width":290,"height":145,"title":{"text":"(f)"},
"layer":[
{"data":{"name":"ref"},"mark":{"type":"rule","strokeDash":[1.5,2.5],"color":"#222222"},"encoding":{"x":{"field":"a","type":"quantitative","scale":{"domain":[0,5]},"axis":{"orient":"top","labels":false,"ticks":false,"title":null}},"x2":{"field":"b"},"y":{"field":"y","type":"quantitative","scale":{"domain":[0,100]},"axis":null}}},
{"data":{"name":"pts"},"transform":[{"filter":"datum.p=='f' && datum.s=='N'"}],"mark":{"type":"rule","color":"#111111"},"encoding":{"x":{"field":"u","type":"nominal","scale":{"type":"point","domain":["-2","-1","1","2"],"padding":1},"axis":{"title":"Uncertainty","labelExpr":"replace(datum.label,'-','−')","labelPadding":8,"titlePadding":11}},"xOffset":{"field":"s","type":"nominal","scale":{"type":"point","domain":["N","σ","rm"],"range":[-6.5,6.5],"padding":0}},"y":{"field":"lo","type":"quantitative","scale":{"domain":[0,100]},"axis":{"orient":"left","labels":false,"ticks":false,"title":null,"domainDash":[6,4]}},"y2":{"field":"hi"}}},
{"data":{"name":"pts"},"transform":[{"filter":"datum.p=='f' && datum.s=='N'"},{"fold":["lo","hi"],"as":["k","e"]}],"mark":{"type":"tick","color":"#111111"},"encoding":{"x":{"field":"u","type":"nominal","scale":{"type":"point","domain":["-2","-1","1","2"],"padding":1},"axis":null},"xOffset":{"field":"s","type":"nominal","scale":{"type":"point","domain":["N","σ","rm"],"range":[-6.5,6.5],"padding":0}},"y":{"field":"e","type":"quantitative","scale":{"domain":[0,100]},"axis":null}}},
{"data":{"name":"pts"},"transform":[{"filter":"datum.p=='f' && datum.s=='N'"}],"mark":"point","encoding":{"x":{"field":"u","type":"nominal","scale":{"type":"point","domain":["-2","-1","1","2"],"padding":1},"axis":null},"xOffset":{"field":"s","type":"nominal","scale":{"type":"point","domain":["N","σ","rm"],"range":[-6.5,6.5],"padding":0}},"y":{"field":"v","type":"quantitative","scale":{"domain":[0,100]},"axis":null},
"shape":{"field":"s","type":"nominal","scale":{"domain":["N","σ","rm"],"range":["M-1,-1L1,1M-1,1L1,-1","M-1,0L1,0M0,-1L0,1M-0.7,-0.7L0.7,0.7M-0.7,0.7L0.7,-0.7","M0,-0.75L0.6,0L0,0.75L-0.6,0Z"]},"legend":null},
"stroke":{"field":"s","type":"nominal","scale":{"domain":["N","σ","rm"],"range":["#111111","#2b3a9e","#3848a8"]},"legend":null},
"fill":{"field":"s","type":"nominal","scale":{"domain":["N","σ","rm"],"range":["transparent","transparent","#b0b8e8"]},"legend":null}}},
{"data":{"name":"pts"},"transform":[{"filter":"datum.p=='f' && datum.s!='N'"}],"mark":{"type":"rule","color":"#3040a4"},"encoding":{"x":{"field":"u","type":"nominal","scale":{"type":"point","domain":["-2","-1","1","2"],"padding":1},"axis":null},"xOffset":{"field":"s","type":"nominal","scale":{"type":"point","domain":["N","σ","rm"],"range":[-6.5,6.5],"padding":0}},"y":{"field":"lo","type":"quantitative","scale":{"domain":[0,3]},"axis":{"orient":"right","values":[0,0.5,1,1.5,2,2.5,3],"labelExpr":"datum.value==0 ? '0' : format(datum.value,'.1f')","title":["σ /μm","rₘ /μm"],"domainColor":"#3a58a8","tickColor":"#3a58a8","labelColor":"#3a58a8","titleColor":"#3a58a8","titleAngle":-90,"titleBaseline":"top","titleFontSize":17,"titlePadding":0,"titleLineHeight":20,"labelPadding":6}},"y2":{"field":"hi"}}},
{"data":{"name":"pts"},"transform":[{"filter":"datum.p=='f' && datum.s!='N'"},{"fold":["lo","hi"],"as":["k","e"]}],"mark":{"type":"tick","color":"#3040a4"},"encoding":{"x":{"field":"u","type":"nominal","scale":{"type":"point","domain":["-2","-1","1","2"],"padding":1},"axis":null},"xOffset":{"field":"s","type":"nominal","scale":{"type":"point","domain":["N","σ","rm"],"range":[-6.5,6.5],"padding":0}},"y":{"field":"e","type":"quantitative","scale":{"domain":[0,3]},"axis":null}}},
{"data":{"name":"pts"},"transform":[{"filter":"datum.p=='f' && datum.s!='N'"}],"mark":"point","encoding":{"x":{"field":"u","type":"nominal","scale":{"type":"point","domain":["-2","-1","1","2"],"padding":1},"axis":null},"xOffset":{"field":"s","type":"nominal","scale":{"type":"point","domain":["N","σ","rm"],"range":[-6.5,6.5],"padding":0}},"y":{"field":"v","type":"quantitative","scale":{"domain":[0,3]},"axis":null},
"shape":{"field":"s","type":"nominal","scale":{"domain":["N","σ","rm"],"range":["M-1,-1L1,1M-1,1L1,-1","M-1,0L1,0M0,-1L0,1M-0.7,-0.7L0.7,0.7M-0.7,0.7L0.7,-0.7","M0,-0.75L0.6,0L0,0.75L-0.6,0Z"]},"legend":null},
"stroke":{"field":"s","type":"nominal","scale":{"domain":["N","σ","rm"],"range":["#111111","#2b3a9e","#3848a8"]},"legend":null},
"fill":{"field":"s","type":"nominal","scale":{"domain":["N","σ","rm"],"range":["transparent","transparent","#b0b8e8"]},"legend":null}}}
],
"resolve":{"scale":{"x":"independent","y":"independent"}}}
],"spacing":0,
"resolve":{"scale":{"shape":"independent","stroke":"independent","fill":"independent"},"legend":{"shape":"independent","stroke":"independent","fill":"independent"}}}
]
}
